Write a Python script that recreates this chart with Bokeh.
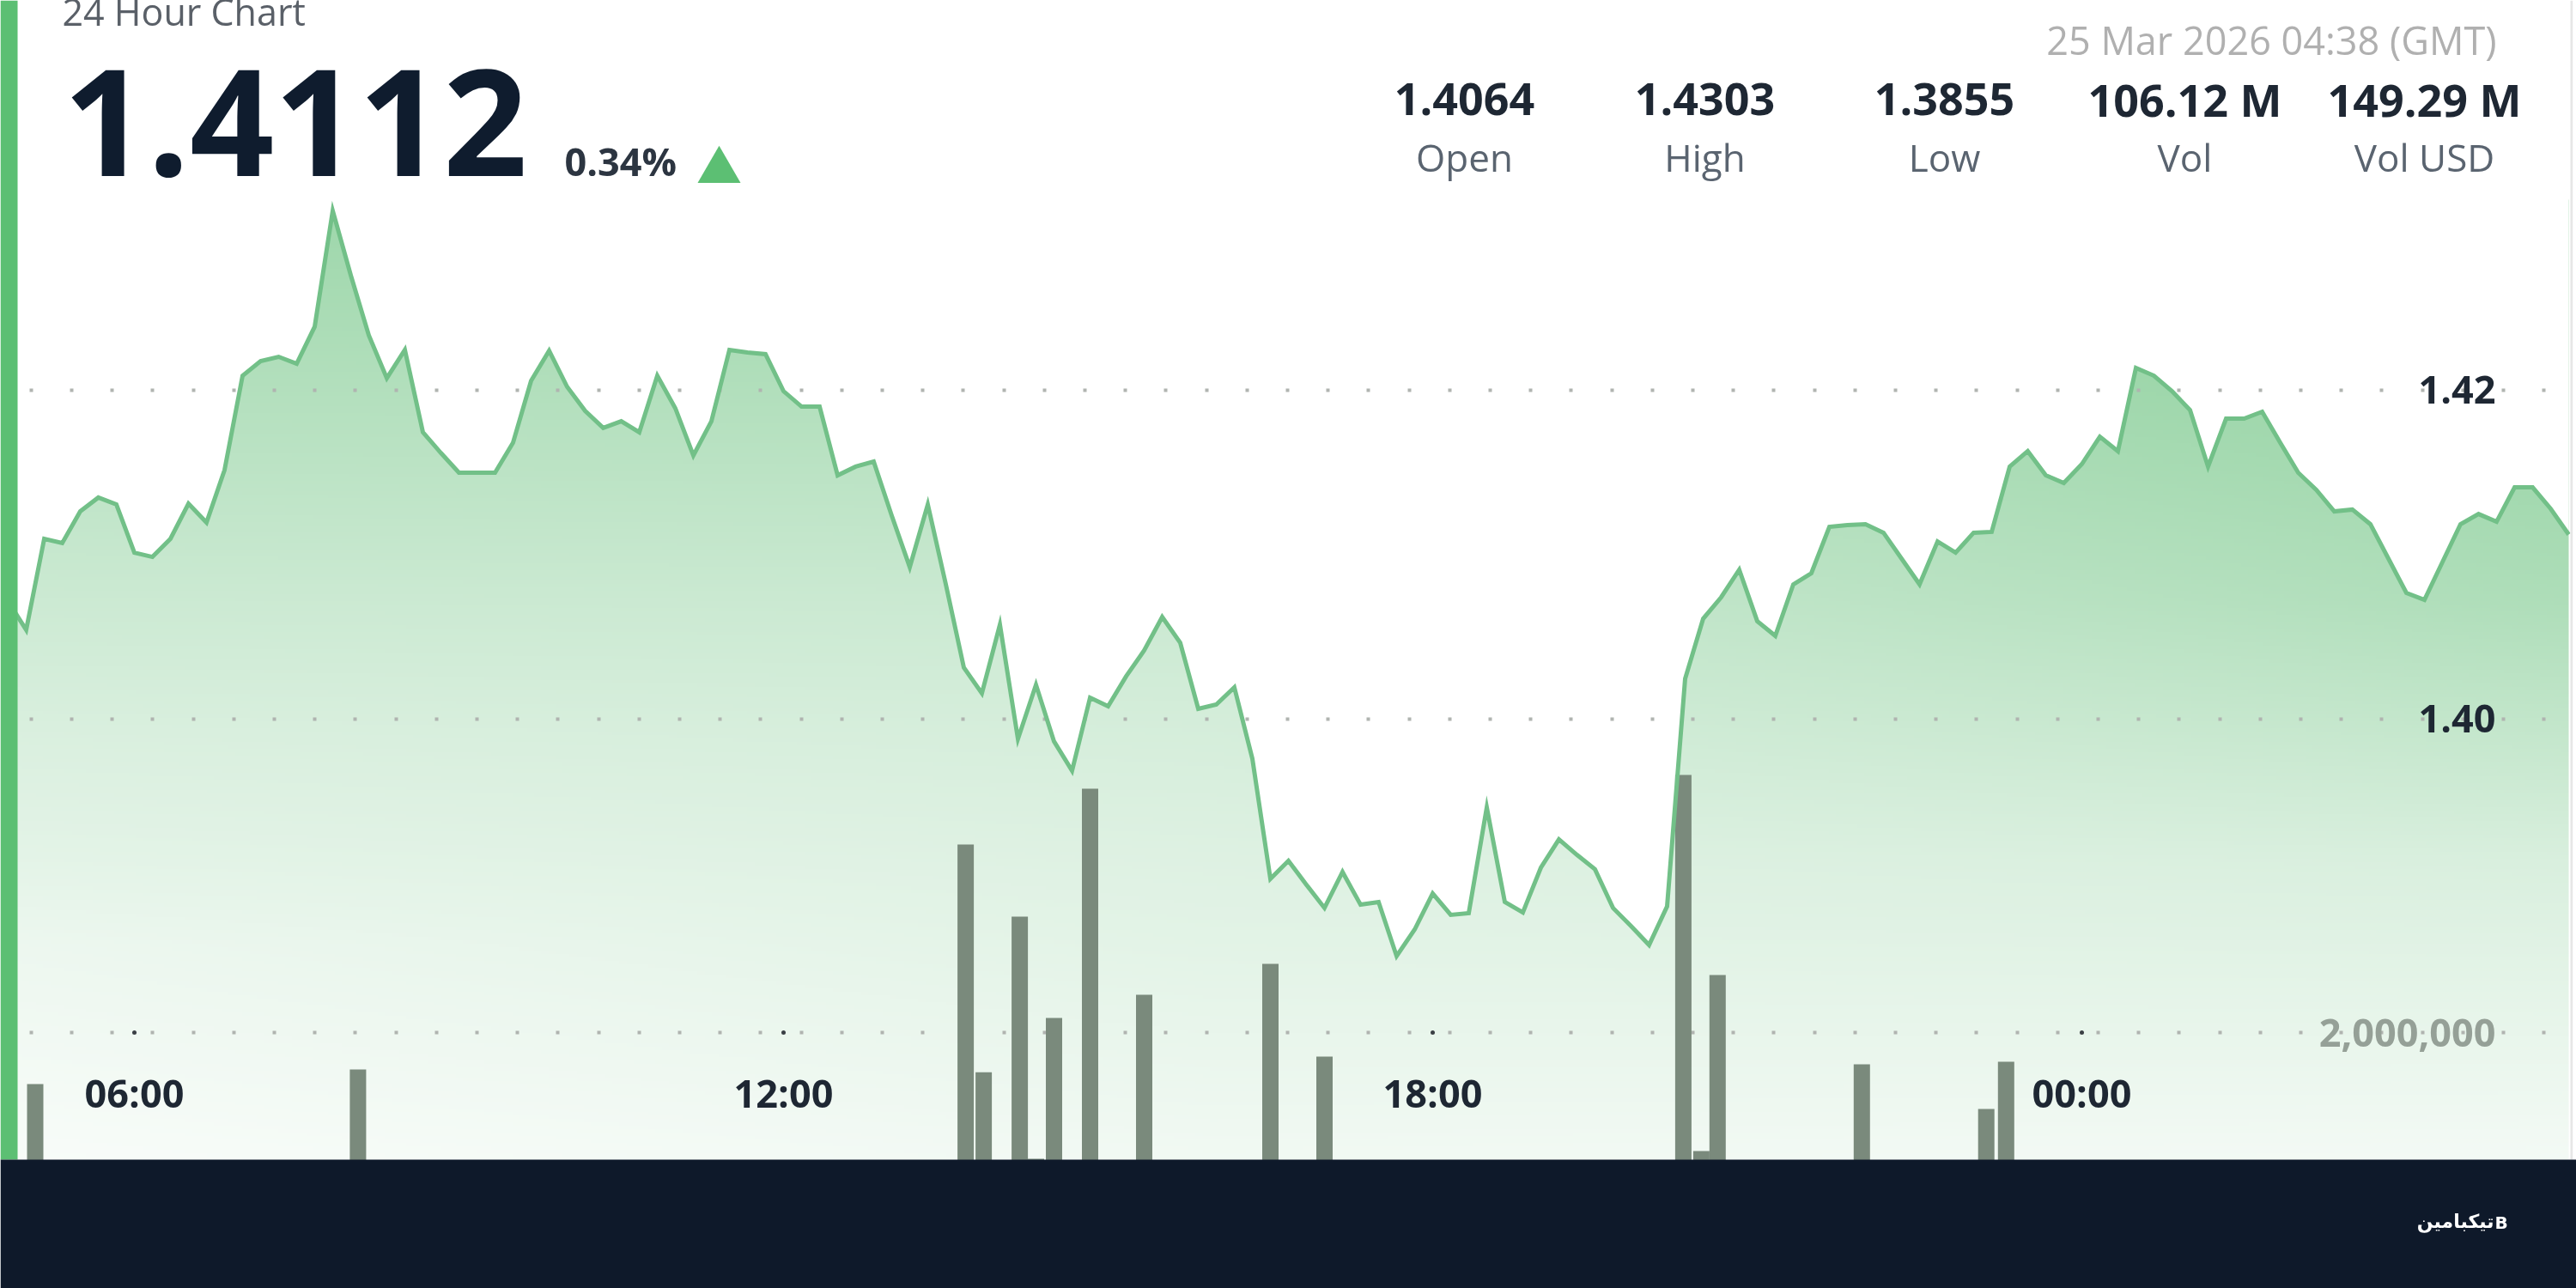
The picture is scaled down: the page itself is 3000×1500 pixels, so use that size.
import numpy as np
from bokeh.core.properties import value
from bokeh.embed import file_html
from bokeh.resources import INLINE
from bokeh.plotting import figure
from bokeh.models import (Range1d, LinearAxis, FixedTicker, Grid, BoxAnnotation,
                          NumeralTickFormatter)

# ---- data ----------------------------------------------------------------
first_minute = -70          # minutes relative to 06:00
step_minutes = 10
price = [
 1.40713,1.40540,1.41094,1.41068,1.41261,1.41345,1.41303,1.41010,1.40984,1.41094,
 1.41308,1.41193,1.41512,1.42086,1.42175,1.42201,1.42159,1.42384,1.43089,1.42697,
 1.42332,1.42071,1.42243,1.41742,1.41616,1.41496,1.41496,1.41496,1.41679,1.42055,
 1.42238,1.42018,1.41872,1.41768,1.41809,1.41742,1.42086,1.41888,1.41601,1.41809,
 1.42243,1.42227,1.42217,1.41992,1.41898,1.41898,1.41480,1.41533,1.41564,1.41235,
 1.40922,1.41303,1.40817,1.40311,1.40154,1.40572,1.39877,1.40206,1.39862,1.39684,
 1.40128,1.40076,1.40258,1.40415,1.40619,1.40462,1.40060,1.40086,1.40191,1.39757,
 1.39026,1.39136,1.38990,1.38849,1.39068,1.38869,1.38885,1.38556,1.38718,1.38937,
 1.38807,1.38817,1.39460,1.38885,1.38822,1.39094,1.39266,1.39172,1.39084,1.38849,
 1.38739,1.38624,1.38859,1.40243,1.40608,1.40739,1.40906,1.40593,1.40504,1.40817,
 1.40885,1.41167,1.41178,1.41183,1.41131,1.40974,1.40817,1.41078,1.41010,1.41131,
 1.41136,1.41533,1.41627,1.41480,1.41433,1.41548,1.41715,1.41627,1.42133,1.42086,
 1.41992,1.41877,1.41533,1.41825,1.41825,1.41867,1.41679,1.41496,1.41392,1.41261,
 1.41272,1.41183,1.40974,1.40765,1.40723,1.40953,1.41183,1.41245,1.41198,1.41407,
 1.41407,1.41277,1.41120]
vol_minutes = [-55,124,461,471,491,500,510,530,560,630,660,859,869,878,958,1027,1038]
vol_values = [1597000,1711000,3470000,1690000,2906000,1013000,2114000,3906000,2295000,
              2537000,1812000,4013000,1074000,2450000,1752000,1403000,1772000]
time_ticks = [0,360,720,1080]
time_labels = ["06:00","12:00","18:00","00:00"]
price_ticks = [1.40,1.42]
price_labels = ["1.40","1.42"]
vol_ticks = [2000000]
stat_values = ["1.4064","1.4303","1.3855","106.12 M","149.29 M"]
stat_names = ["Open","High","Low","Vol","Vol USD"]
title_text = "24 Hour Chart"
last_text = "1.4112"
change_text = "0.34%"
date_text = "25 Mar 2026 04:38 (GMT)"
brand_text = "تیکبامین"
brand_mark = "B"

minutes = [first_minute + i*step_minutes for i in range(len(price))]

# ---- layout -----------------------------------------------------------------
W, H = 3000, 1500
PX_PER_MIN = 2.1
X0 = 156                     # pixel of 06:00
def t_at(px): return (px - X0)/PX_PER_MIN
PX_PER_PRICE = 19150.0
def p_at(py): return 1.40 + (836.5 - py)/PX_PER_PRICE
VOL_PER_PX = 2000000/(H - 1202)

p = figure(width=W, height=H, output_backend="svg", toolbar_location=None, min_border=0,
           x_range=Range1d(t_at(0), t_at(W)), y_range=Range1d(p_at(H), p_at(0)),
           background_fill_color="white", border_fill_color="white", outline_line_color=None)
p.styles = {"position": "fixed", "left": "0px", "top": "0px"}
p.extra_y_ranges = {"vol": Range1d(0, VOL_PER_PX*H), "py": Range1d(H, 0)}
p.extra_x_ranges = {"px": Range1d(0, W)}

# ---- gradient area: picture under a white mask above the line ----------------
gx = [0.0, 0.47, 1.0]
gy = [1350.0, 1100.0, 1000.0, 850.0, 700.0, 450.0, 250.0]
gw = [[0.06, 0.12, 0.10],
      [0.16, 0.25, 0.27],
      [0.24, 0.29, 0.34],
      [0.33, 0.37, 0.53],
      [0.45, 0.47, 0.72],
      [0.67, 0.70, 0.92],
      [0.85, 0.88, 1.00]]
gw = np.array(gw)
iw, ih = 360, 280
ys = np.linspace(1350, 232, ih)        # row 0 = bottom
xs = np.linspace(0, 1, iw)
img = np.zeros((ih, iw), dtype=np.uint32)
order = np.argsort(gy)
cols = np.array([np.interp(ys, np.array(gy)[order], gw[order, j]) for j in range(3)])
G = np.array([143, 209, 158])
for r in range(ih):
    w = np.interp(xs, gx, cols[:, r])
    c = (255 - (255 - G[None, :])*w[:, None]).astype(np.uint32)
    img[r] = (255 << 24) | (c[:, 2] << 16) | (c[:, 1] << 8) | c[:, 0]
p.image_rgba(image=[img], x=minutes[0], y=p_at(1350), dw=minutes[-1]-minutes[0],
             dh=p_at(232)-p_at(1350), level="image")
p.varea(x=minutes, y1=price, y2=p_at(225), fill_color="white", level="image")

# ---- axes and dotted grids ---------------------------------------------------
DOT = dict(grid_line_color="#B0B4B0", grid_line_width=4,
           grid_line_dash=[4, 43, 4, 43, 4, 43, 4, 43, 4, 44],
           grid_line_dash_offset=13)
p.xgrid.visible = False
p.ygrid.ticker = FixedTicker(ticks=price_ticks)
for k, v in DOT.items():
    setattr(p.ygrid[0], k, v)
vg = Grid(dimension=1, ticker=FixedTicker(ticks=vol_ticks), y_range_name="vol", **DOT)
p.add_layout(vg)

AX = dict(axis_line_color=None, major_tick_line_color=None, minor_tick_line_color=None,
          major_label_text_font="Open Sans", major_label_text_font_style="bold",
          major_label_text_font_size="45px", major_label_text_color="#1E2733")
xa = p.xaxis[0]
xa.ticker = FixedTicker(ticks=time_ticks)
xa.major_label_overrides = dict(zip(time_ticks, time_labels))
xa.fixed_location = p_at(1235)
xa.major_label_standoff = 0
ya = p.yaxis[0]
ya.ticker = FixedTicker(ticks=price_ticks)
ya.major_label_overrides = dict(zip(price_ticks, price_labels))
ya.fixed_location = t_at(2914)
ya.major_label_standoff = 2
for ax in (xa, ya):
    for k, v in AX.items():
        setattr(ax, k, v)
va = LinearAxis(y_range_name="vol", ticker=FixedTicker(ticks=vol_ticks),
                formatter=NumeralTickFormatter(format="0,0"),
                fixed_location=t_at(2914), major_label_standoff=2, **AX)
va.major_label_text_color = "#95A097"
p.add_layout(va, "left")

# ---- marks -------------------------------------------------------------------
p.vbar(x=vol_minutes, top=vol_values, bottom=0, width=19/PX_PER_MIN,
       fill_color="#7A8A7C", line_color=None, y_range_name="vol")
p.line(x=minutes, y=price, line_color="#72C088", line_width=5, line_join="miter")
p.scatter(x=time_ticks, y=[vol_ticks[0]]*len(time_ticks), marker="circle", size=5,
          fill_color="#3A3F44", line_color=None, y_range_name="vol")

# ---- page furniture ----------------------------------------------------------
GREEN = "#5CBF73"
def box(l, r, t, b, color):
    p.add_layout(BoxAnnotation(left=l, right=r, top=t, bottom=b, fill_color=color, fill_alpha=1,
                               line_color=None, x_range_name="px", y_range_name="py"))
box(2993, 2996, 0, 1350, "#E6E6E6")
box(2996, 3000, 0, 1350, "#FFFFFF")
box(0, 20, 0, 1350, GREEN)
box(0, 3000, 1350, 1500, "#0E192A")

def txt(x, y, s, size, color, align="left", bold=False, font="Open Sans", level="overlay"):
    # the rendered baseline sits about 0.36 em under the requested one
    p.text(x=[x], y=[y - 0.36*size], text=[s], text_font=value(font), text_font_size=f"{size}px",
           text_color=color, text_align=align, text_baseline="alphabetic",
           text_font_style="bold" if bold else "normal",
           x_range_name="px", y_range_name="py", level=level)

txt(72, 28, title_text, 43, "#5A6068")
txt(73, 204, last_text, 172, "#0F1C2E", bold=True)
txt(657, 203, change_text, 45, "#2C3541", bold=True)
p.scatter(x=[837], y=[198], marker="triangle", size=50, fill_color=GREEN, line_color=None,
          x_range_name="px", y_range_name="py", level="overlay")
txt(2907, 62, date_text, 45, "#B0B0B0", align="right")
stat_x = [1705, 1985, 2264, 2544, 2823]
for x, v, n in zip(stat_x, stat_values, stat_names):
    txt(x, 134, v, 52, "#1E2733", align="center", bold=True)
    txt(x, 198, n, 44, "#5A6470", align="center")
txt(2904, 1430, brand_text, 22, "#FFFFFF", align="right", bold=True, font="DejaVu Sans")
txt(2905, 1431, brand_mark, 20, "#FFFFFF", bold=True, font="DejaVu Sans")

open("out.html", "w").write(file_html(p, INLINE))
